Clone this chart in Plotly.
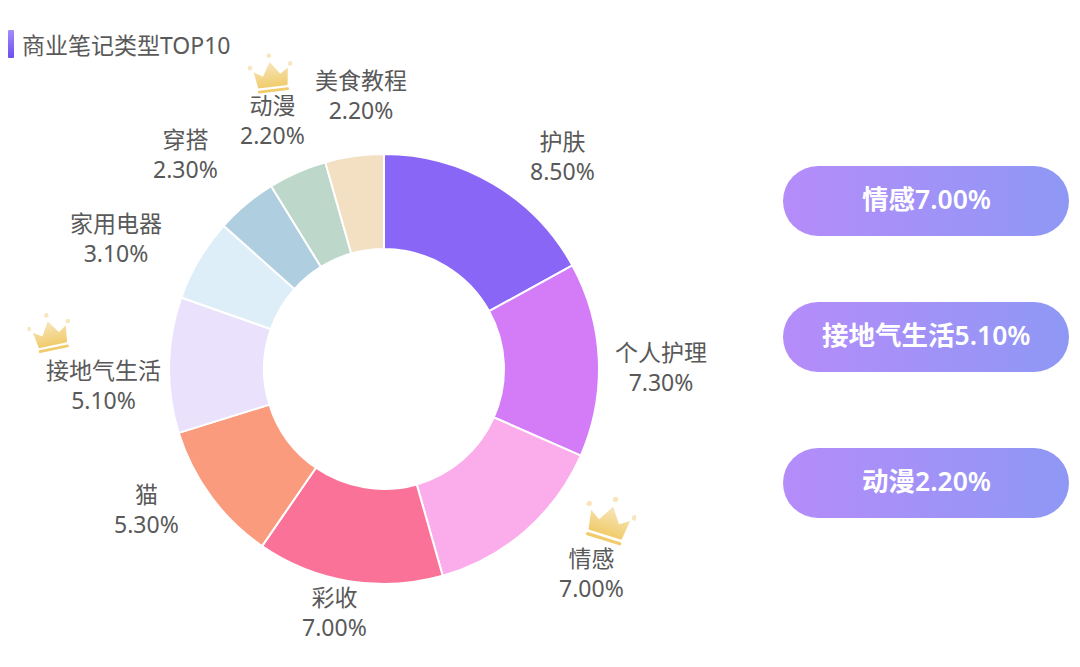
import base64
import plotly.graph_objects as go

W, H = 1080, 667
FONT = "Noto Sans, Noto Sans CJK SC, sans-serif"

title = "商业笔记类型TOP10"
categories = ["护肤", "个人护理", "情感", "彩收", "猫", "接地气生活", "家用电器", "穿搭", "动漫", "美食教程"]
values = [8.5, 7.3, 7.0, 7.0, 5.3, 5.1, 3.1, 2.3, 2.2, 2.2]
colors = ["#8966F6", "#D47CF8", "#FBADEB", "#FA7298", "#FA9B7E",
          "#EAE2FC", "#DEEEF9", "#AFCEE0", "#BDD8CA", "#F3DFC2"]
label_px = [(562, 156), (661, 367), (591, 573), (334, 612), (146, 509),
            (103, 385), (116, 238), (185, 154), (272, 120), (361, 95)]
highlights = ["情感", "接地气生活", "动漫"]
pill_tops = [166, 302, 448]
crowns = [(271, 74, 46, -6.7), (609, 520, 54, 17.5), (50, 333, 45, -11.7)]


def px(x):
    return x / W


def py(y):
    return 1 - y / H


def uri(svg):
    return "data:image/svg+xml;base64," + base64.b64encode(svg.encode("utf-8")).decode()


def pill_svg():
    return uri(
        '<svg xmlns="http://www.w3.org/2000/svg" width="286" height="70" viewBox="0 0 286 70">'
        '<defs><linearGradient id="g" x1="0" y1="0" x2="1" y2="0">'
        '<stop offset="0" stop-color="#B58CFA"/><stop offset="1" stop-color="#8E98F4"/>'
        '</linearGradient></defs><rect width="286" height="70" rx="35" ry="35" fill="url(#g)"/></svg>')


def bar_svg():
    return uri(
        '<svg xmlns="http://www.w3.org/2000/svg" width="6" height="28" viewBox="0 0 6 28">'
        '<defs><linearGradient id="g" x1="0" y1="0" x2="0" y2="1">'
        '<stop offset="0" stop-color="#A48EFB"/><stop offset="1" stop-color="#6C4DF0"/>'
        '</linearGradient></defs><rect width="6" height="28" rx="1" fill="url(#g)"/></svg>')


def crown_svg(angle):
    return uri(
        '<svg xmlns="http://www.w3.org/2000/svg" width="200" height="200" viewBox="0 0 100 100">'
        '<defs><linearGradient id="g" x1="0" y1="0" x2="0" y2="1">'
        '<stop offset="0" stop-color="#F7E6BC"/><stop offset="1" stop-color="#F0CC6C"/>'
        '</linearGradient></defs>'
        f'<g transform="rotate({angle} 50 50)">'
        '<polygon points="13,42 32,54 50,24 70,52 88,40 83,78 19,78" fill="url(#g)"/>'
        '<rect x="17" y="83" width="68" height="6" rx="2.5" fill="#F0CC6C"/>'
        '<circle cx="6" cy="32" r="5" fill="#F7E6BE"/>'
        '<circle cx="50" cy="10" r="5" fill="#F7E6BE"/>'
        '<circle cx="94" cy="32" r="5" fill="#F7E6BE"/>'
        '</g></svg>')


fig = go.Figure(go.Pie(
    labels=categories,
    values=values,
    sort=False,
    direction="clockwise",
    rotation=0,
    hole=0.558,
    textinfo="none",
    marker=dict(colors=colors, line=dict(color="#FFFFFF", width=2)),
    domain=dict(x=[px(169), px(599)], y=[py(584), py(154)]),
))

annotations = [dict(
    x=px(20), y=py(45), xref="paper", yref="paper", xanchor="left", yanchor="middle",
    text=title, showarrow=False, font=dict(family=FONT, size=23, color="#595959"))]

for name, value, (lx, ly) in zip(categories, values, label_px):
    annotations.append(dict(
        x=px(lx), y=py(ly), xref="paper", yref="paper", xanchor="center", yanchor="middle",
        text=f"{name}<br>{value:.2f}%", showarrow=False, align="center",
        font=dict(family=FONT, size=23, color="#595959")))

images = [dict(source=bar_svg(), xref="paper", yref="paper", x=px(8), y=py(30),
               sizex=6 / W, sizey=28 / H, xanchor="left", yanchor="top",
               sizing="stretch", layer="above")]

for name, top in zip(highlights, pill_tops):
    images.append(dict(source=pill_svg(), xref="paper", yref="paper", x=px(783), y=py(top),
                       sizex=286 / W, sizey=70 / H, xanchor="left", yanchor="top",
                       sizing="stretch", layer="below"))
    value = values[categories.index(name)]
    annotations.append(dict(
        x=px(926), y=py(top + 33), xref="paper", yref="paper", xanchor="center", yanchor="middle",
        text=f"{name}{value:.2f}%", showarrow=False,
        font=dict(family=FONT, size=26.5, color="#FFFFFF", weight=600)))

for cx, cy, size, angle in crowns:
    images.append(dict(source=crown_svg(angle), xref="paper", yref="paper",
                       x=px(cx - size / 2), y=py(cy - size / 2),
                       sizex=size / W, sizey=size / H, xanchor="left", yanchor="top",
                       sizing="stretch", layer="above"))

fig.update_layout(
    width=W, height=H,
    margin=dict(l=0, r=0, t=0, b=0),
    paper_bgcolor="#FFFFFF",
    plot_bgcolor="#FFFFFF",
    showlegend=False,
    annotations=annotations,
    images=images,
)

fig.write_html("out.html", config=dict(displayModeBar=False),
               post_script="document.body.style.margin='0';document.body.style.overflow='hidden';")
